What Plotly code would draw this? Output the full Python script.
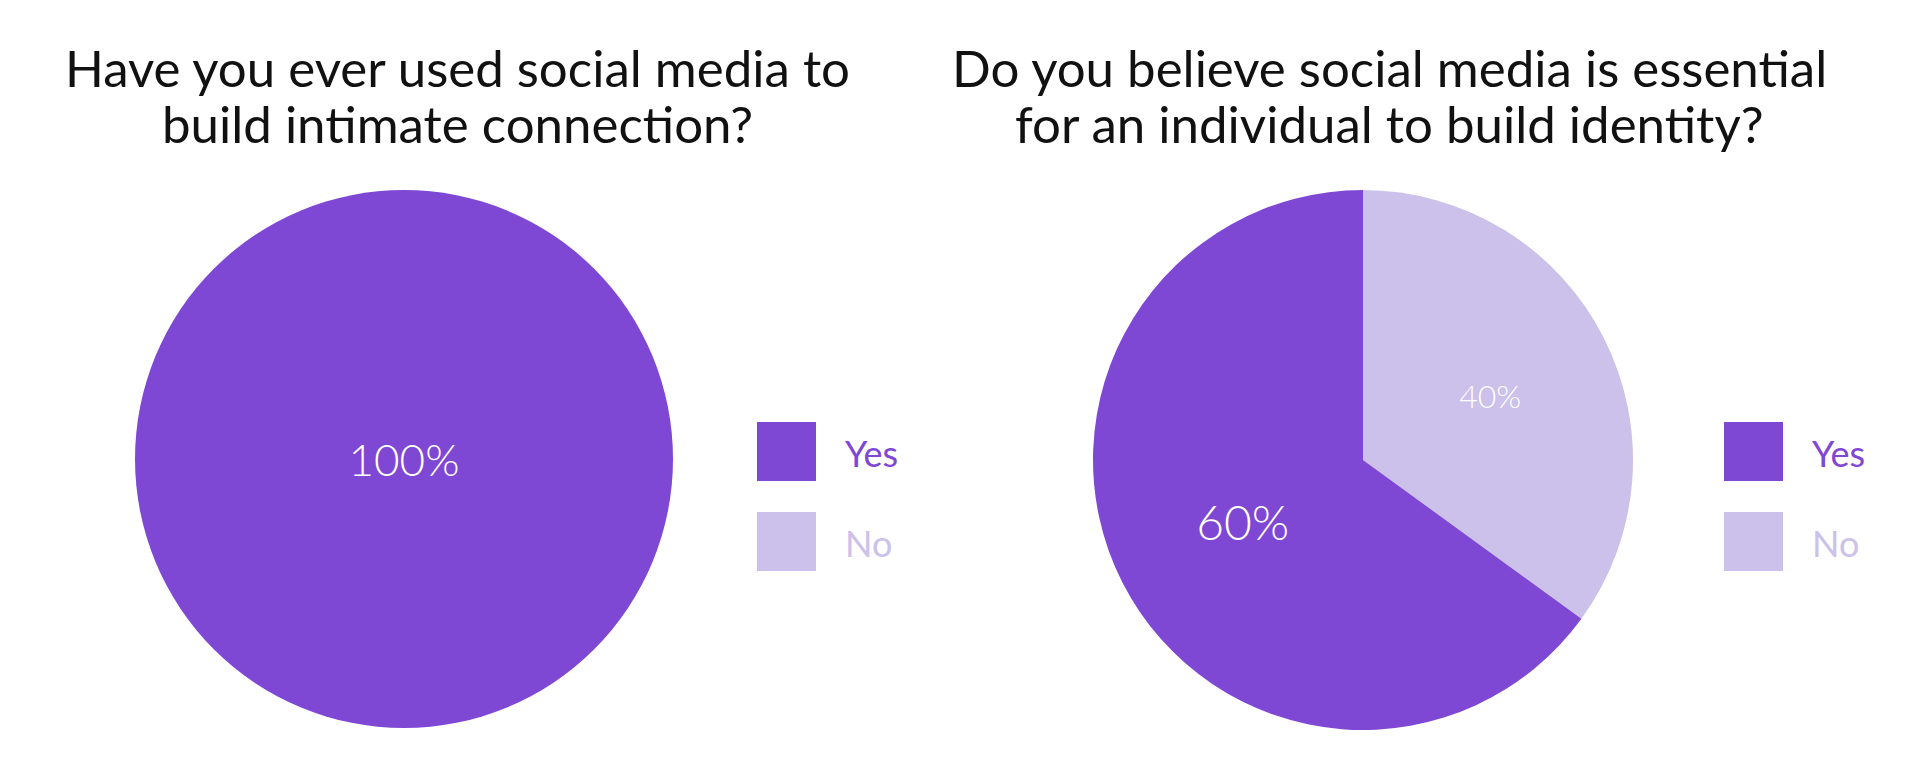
import plotly.graph_objects as go

# ---- data ----
categories = ["Yes", "No"]
q1_title = ["Have you ever used social media to", "build intimate connection?"]
q1_values = [100, 0]
q1_labels = ["100%", ""]
q2_title = ["Do you believe social media is essential", "for an individual to build identity?"]
q2_values = [65, 35]
q2_labels = ["60%", "40%"]

# ---- style ----
W, H = 1920, 782
OFF = 8  # page body margin
colors = ["#7F48D4", "#CBC1EA"]
FONT = "Lato"

def px_x(x):
    return (x - OFF) / W

def px_y(y):
    return 1 - (y - OFF) / H

def domain(cx, cy, r):
    return dict(x=[px_x(cx - r), px_x(cx + r)], y=[px_y(cy + r), px_y(cy - r)])

def rev(a):
    return list(a)[::-1]

fig = go.Figure()
# slices drawn "No" first, clockwise from 12 o'clock, so "Yes" fills the left side
fig.add_trace(go.Pie(
    labels=rev(categories), values=rev(q1_values), text=rev(q1_labels), textinfo="text",
    sort=False, direction="clockwise", rotation=0,
    marker=dict(colors=rev(colors), line=dict(width=0)),
    textfont=dict(family=FONT, size=44, color="white", weight=300),
    insidetextorientation="horizontal",
    domain=domain(404, 459, 269), showlegend=False, hoverinfo="label+percent",
))
fig.add_trace(go.Pie(
    labels=rev(categories), values=rev(q2_values), text=rev(q2_labels), textinfo="text",
    sort=False, direction="clockwise", rotation=0,
    marker=dict(colors=rev(colors), line=dict(width=0)),
    textfont=dict(family=FONT, size=[32, 48], color="white", weight=300),
    insidetextorientation="horizontal",
    domain=domain(1363, 460, 270), showlegend=False, hoverinfo="label+percent",
))

annotations = []
shapes = []
for lines, tx in [(q1_title, 457), (q2_title, 1389)]:
    for line, cy in zip(lines, [68, 123]):
        annotations.append(dict(
            text=line, x=px_x(tx), y=px_y(cy), xref="paper", yref="paper",
            xanchor="center", yanchor="middle", showarrow=False, align="center",
            font=dict(family=FONT, size=51, color="#111111"),
        ))

for sq_x, txt_x in [(757, 843), (1724, 1810)]:
    for i, (cat, col) in enumerate(zip(categories, colors)):
        top = 422 + i * 90
        shapes.append(dict(
            type="rect", xref="paper", yref="paper",
            x0=px_x(sq_x), x1=px_x(sq_x + 59), y0=px_y(top + 59), y1=px_y(top),
            fillcolor=col, line=dict(width=0),
        ))
        annotations.append(dict(
            text=cat, x=px_x(txt_x), y=px_y(top + 31), xref="paper", yref="paper",
            xanchor="left", yanchor="middle", showarrow=False,
            font=dict(family=FONT, size=36, color=col),
        ))

fig.update_layout(
    width=W, height=H, margin=dict(l=0, r=0, t=0, b=0),
    paper_bgcolor="white", plot_bgcolor="white",
    annotations=annotations, shapes=shapes,
)
fig.write_html("out.html")
